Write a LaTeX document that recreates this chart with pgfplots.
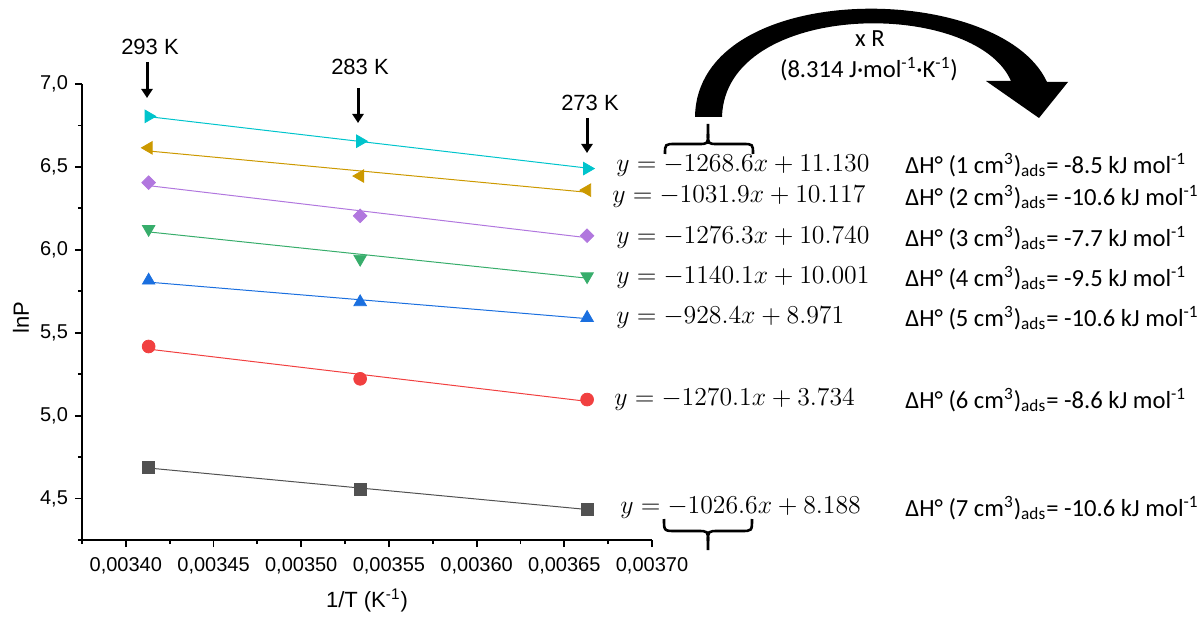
\documentclass[border=0pt]{standalone}
\usepackage{fix-cm}
\usepackage{fontspec}
\setmainfont{Liberation Sans}
\newfontfamily\calfont{Carlito}
\usepackage{pgfplots}
\pgfplotsset{compat=1.18}
\usetikzlibrary{arrows.meta}
\definecolor{cgray}{HTML}{515151}
\definecolor{cred}{HTML}{F14040}
\definecolor{cblue}{HTML}{1A6FDF}
\definecolor{cgreen}{HTML}{37AD6B}
\definecolor{cpurple}{HTML}{B177DE}
\definecolor{cgold}{HTML}{CC9900}
\definecolor{ccyan}{HTML}{00C4CC}
\begin{document}
\begin{tikzpicture}
\begin{axis}[
  at={(41pt,-270pt)}, anchor=south west,
  scale only axis, width=285pt, height=228pt,
  xmin=0.003375, xmax=0.0037, ymin=4.25, ymax=7.0,
  axis lines*=left, axis line style={-, line width=0.9pt},
  tick align=outside, major tick length=3.5pt, minor tick length=2pt,
  every tick/.style={black, line width=0.9pt},
  scaled x ticks=false,
  xtick={0.0034,0.00345,0.0035,0.00355,0.0036,0.00365,0.0037},
  xticklabels={{0,00340},{0,00345},{0,00350},{0,00355},{0,00360},{0,00365},{0,00370}},
  minor xtick={0.003375,0.003425,0.003475,0.003525,0.003575,0.003625,0.003675},
  ytick={4.5,5,5.5,6,6.5,7},
  yticklabels={{4,5},{5,0},{5,5},{6,0},{6,5},{7,0}},
  minor ytick={4.25,4.75,5.25,5.75,6.25,6.75},
  tick label style={font=\fontsize{10}{12}\selectfont},
  xticklabel style={yshift=-1.5pt},
  xlabel={1/T (K\textsuperscript{-1})}, ylabel={lnP},
  label style={font=\fontsize{11}{13}\selectfont},
  xlabel style={at={(axis description cs:0.5,0)}, anchor=center, yshift=-30pt},
  ylabel style={at={(axis description cs:-0.107,0.487)}, anchor=center},
  clip=false,
]
% fit lines
\addplot[cgray, line width=0.5pt] coordinates {(0.0034130,4.684) (0.0036630,4.434)};
\addplot[cred, line width=0.5pt] coordinates {(0.0034130,5.401) (0.0036630,5.086)};
\addplot[cblue, line width=0.5pt] coordinates {(0.0034130,5.805) (0.0036630,5.585)};
\addplot[cgreen, line width=0.5pt] coordinates {(0.0034130,6.108) (0.0036630,5.829)};
\addplot[cpurple, line width=0.5pt] coordinates {(0.0034130,6.387) (0.0036630,6.073)};
\addplot[cgold, line width=0.5pt] coordinates {(0.0034130,6.596) (0.0036630,6.347)};
\addplot[ccyan, line width=0.5pt] coordinates {(0.0034130,6.803) (0.0036630,6.493)};
% data points
\addplot[only marks, mark=square*, mark size=3pt, color=cgray] coordinates {(0.0034130,4.690) (0.0035336,4.556) (0.0036630,4.436)};
\addplot[only marks, mark=*, mark size=3.2pt, color=cred] coordinates {(0.0034130,5.417) (0.0035336,5.222) (0.0036630,5.097)};
\addplot[only marks, mark=triangle*, mark size=3.6pt, color=cblue] coordinates {(0.0034130,5.815) (0.0035336,5.685) (0.0036630,5.590)};
\addplot[only marks, mark=triangle*, mark size=3.6pt, mark options={rotate=180}, color=cgreen] coordinates {(0.0034130,6.125) (0.0035336,5.945) (0.0036630,5.840)};
\addplot[only marks, mark=square*, mark size=2.4pt, mark options={rotate=45}, color=cpurple] coordinates {(0.0034130,6.405) (0.0035336,6.205) (0.0036630,6.085)};
\addplot[only marks, mark=triangle*, mark size=3.6pt, mark options={rotate=90}, color=cgold] coordinates {(0.0034130,6.615) (0.0035336,6.445) (0.0036630,6.360)};
\addplot[only marks, mark=triangle*, mark size=3.6pt, mark options={rotate=-90}, color=ccyan] coordinates {(0.0034130,6.805) (0.0035336,6.655) (0.0036630,6.490)};
\end{axis}
\begin{scope}[x=0.5pt,y=-0.5pt]
\path[use as bounding box] (0,0) rectangle (1201,612);
% temperature labels and arrows
\node[font=\fontsize{11}{13}\selectfont] at (150,47) {293 K};
\draw[line width=1.5pt, -{Triangle[width=5.5pt,length=4.5pt]}] (147,62) -- (147,98);
\node[font=\fontsize{11}{13}\selectfont] at (360,67) {283 K};
\draw[line width=1.5pt, -{Triangle[width=5.5pt,length=4.5pt]}] (358,88) -- (358,123);
\node[font=\fontsize{11}{13}\selectfont] at (590,103) {273 K};
\draw[line width=1.5pt, -{Triangle[width=5.5pt,length=4.5pt]}] (587,118) -- (587,153);
% equations
\begin{scope}[every node/.style={anchor=west, inner sep=0pt, font=\fontsize{12.9}{15}\selectfont}]
\node at (616,166) {$y=-1268.6x+11.130$};
\node at (612,197) {$y=-1031.9x+10.117$};
\node at (616,238) {$y=-1276.3x+10.740$};
\node at (616,278) {$y=-1140.1x+10.001$};
\node at (616,318) {$y=-928.4x+8.971$};
\node at (614,400) {$y=-1270.1x+3.734$};
\node at (620,508) {$y=-1026.6x+8.188$};
\end{scope}
\begin{scope}[every node/.style={anchor=west, inner sep=0pt, font=\calfont\fontsize{12.3}{14}\selectfont}]
\node at (905,165) {ΔH° (1 cm\textsuperscript{3})\textsubscript{ads}= -8.5 kJ mol\textsuperscript{-1}};
\node at (905,197) {ΔH° (2 cm\textsuperscript{3})\textsubscript{ads}= -10.6 kJ mol\textsuperscript{-1}};
\node at (905,238) {ΔH° (3 cm\textsuperscript{3})\textsubscript{ads}= -7.7 kJ mol\textsuperscript{-1}};
\node at (905,278) {ΔH° (4 cm\textsuperscript{3})\textsubscript{ads}= -9.5 kJ mol\textsuperscript{-1}};
\node at (905,318) {ΔH° (5 cm\textsuperscript{3})\textsubscript{ads}= -10.6 kJ mol\textsuperscript{-1}};
\node at (905,400) {ΔH° (6 cm\textsuperscript{3})\textsubscript{ads}= -8.6 kJ mol\textsuperscript{-1}};
\node at (905,508) {ΔH° (7 cm\textsuperscript{3})\textsubscript{ads}= -10.6 kJ mol\textsuperscript{-1}};
\end{scope}
% big curved arrow
\fill[black] (695,117) .. controls (697,-22) and (1000,-20) .. (1047,82)
  -- (1068,82) -- (1039,118) -- (986,81) -- (1011,81)
  .. controls (975,-2) and (725,0) .. (722,117) -- cycle;
\node[font=\calfont\fontsize{12.3}{14}\selectfont] at (870,39) {x R};
\node[font=\calfont\fontsize{12.3}{14}\selectfont] at (869,69) {(8.314 J·mol\textsuperscript{-1}·K\textsuperscript{-1})};
% braces
\draw[line width=1.3pt] (665,154) .. controls (665,144) .. (676,144) -- (698,144) .. controls (708,144) .. (708,134) -- (708,124);
\draw[line width=1.3pt] (708,134) .. controls (708,144) .. (718,144) -- (742,144) .. controls (753,144) .. (753,154);
\draw[line width=1.3pt] (664,519) .. controls (664,531) .. (676,531) -- (697,531) .. controls (708,531) .. (708,541) -- (708,550);
\draw[line width=1.3pt] (708,541) .. controls (708,531) .. (719,531) -- (741,531) .. controls (752,531) .. (752,519);
\end{scope}
\end{tikzpicture}
\end{document}
